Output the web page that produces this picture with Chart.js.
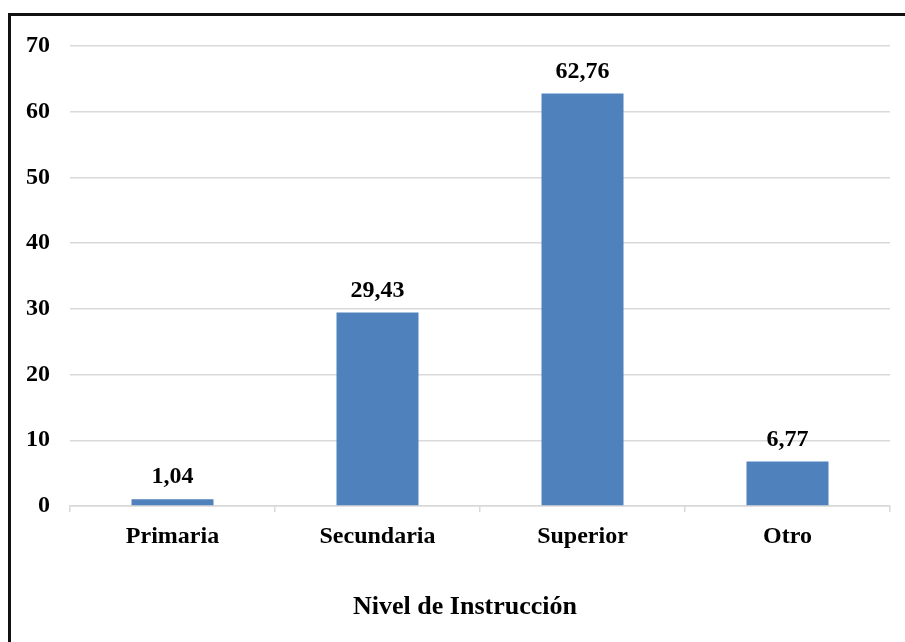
<!DOCTYPE html>
<html lang="es">
<head>
<meta charset="utf-8">
<title>Nivel de Instrucción</title>
<script src="https://cdn.jsdelivr.net/npm/chart.js@4/dist/chart.umd.min.js"></script>
<style>
  html, body { margin: 0; padding: 0; background: #ffffff; }
  #wrap { position: relative; width: 905px; height: 642px; overflow: hidden; }
  #frame {
    position: absolute; left: 8px; top: 13px; right: -10px; bottom: -10px;
    border-top: 3px solid #111; border-left: 3px solid #111; pointer-events: none;
  }
  canvas { position: absolute; left: 0; top: 0; }
</style>
</head>
<body>
<div id="wrap">
  <canvas id="chart" width="905" height="642"></canvas>
  <div id="frame"></div>
</div>
<script>
// Nivel de instrucción (%)
const categories = ["Primaria", "Secundaria", "Superior", "Otro"];
const percentages = [1.04, 29.43, 62.76, 6.77];
const axisTitle = "Nivel de Instrucción";

const FONT = "'Liberation Serif', 'Times New Roman', serif";
const GRID = "#d9d9d9";

// Writes each bar's value (decimal comma) just above the bar.
const valueLabels = {
  id: "valueLabels",
  afterDatasetsDraw(chart) {
    const { ctx } = chart;
    const meta = chart.getDatasetMeta(0);
    ctx.save();
    ctx.font = "bold 24px " + FONT;
    ctx.fillStyle = "#000";
    ctx.textAlign = "center";
    ctx.textBaseline = "alphabetic";
    meta.data.forEach((bar, i) => {
      const text = percentages[i].toFixed(2).replace(".", ",");
      ctx.fillText(text, bar.x, bar.y - 16);
    });
    ctx.restore();
  }
};

// Category-axis title, centred within the framed chart box below the axis labels.
const bottomTitle = {
  id: "bottomTitle",
  afterDraw(chart) {
    const { ctx } = chart;
    const xs = chart.scales.x;
    ctx.save();
    ctx.font = "bold 26px " + FONT;
    ctx.fillStyle = "#000";
    ctx.textAlign = "center";
    ctx.textBaseline = "alphabetic";
    ctx.fillText(axisTitle, (xs.left + xs.right) / 2 - 15, xs.bottom - 28);
    ctx.restore();
  }
};

new Chart(document.getElementById("chart"), {
  type: "bar",
  data: {
    labels: categories,
    datasets: [{
      data: percentages,
      backgroundColor: "#4F81BD",
      borderWidth: 0,
      categoryPercentage: 1.0,
      barPercentage: 0.4
    }]
  },
  options: {
    responsive: false,
    animation: false,
    layout: { padding: { left: 0, top: 46, right: 15, bottom: 0 } },
    plugins: {
      legend: { display: false },
      tooltip: { enabled: false }
    },
    scales: {
      x: {
        grid: {
          display: true,
          drawOnChartArea: false,
          drawTicks: true,
          tickLength: 6,
          offset: true,
          color: GRID,
          lineWidth: 1.5
        },
        border: { display: true, color: GRID, width: 1.5 },
        ticks: {
          color: "#000",
          padding: 10,
          maxRotation: 0,
          font: { family: FONT, size: 24, weight: "bold" }
        },
        title: { display: false },
        afterFit(scale) { scale.height = 136; }
      },
      y: {
        min: 0,
        max: 70,
        ticks: {
          stepSize: 10,
          color: "#000",
          padding: 20,
          font: { family: FONT, size: 24, weight: "bold" }
        },
        grid: { color: GRID, lineWidth: 1.5, drawTicks: false },
        border: { display: false },
        afterFit(scale) { scale.width = 70; }
      }
    }
  },
  plugins: [valueLabels, bottomTitle]
});
</script>
</body>
</html>
